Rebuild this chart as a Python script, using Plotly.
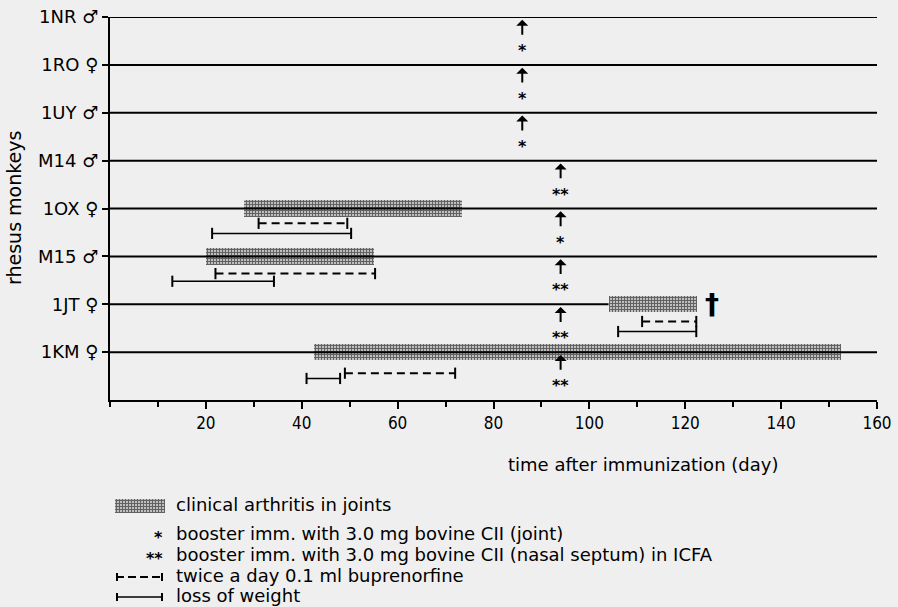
import plotly.graph_objects as go

# ---------------- data ----------------
monkeys = ["1NR ♂", "1RO ♀", "1UY ♂", "M14 ♂", "1OX ♀", "M15 ♂", "1JT ♀", "1KM ♀"]
row_pos = [8, 7, 6, 5, 4, 3, 2, 1]
line_end = [160, 160, 160, 160, 160, 160, 104, 160]

arth_monkeys = ["1OX ♀", "M15 ♂", "1JT ♀", "1KM ♀"]
arth_start = [28, 20, 104, 42.5]
arth_end = [73.5, 55, 122.5, 152.5]

bup_start = [31, 22, 111, 49]
bup_end = [49.5, 55.3, 122.3, 72]

wl_start = [21.3, 13, 106, 41]
wl_end = [50.3, 34.2, 122.3, 48]

booster_day = [86, 86, 86, 94, 94, 94, 94, 94]
booster_type = ["*", "*", "*", "**", "*", "**", "**", "**"]

death_monkey = "1JT ♀"
death_day = 125.5

x_ticks = [20, 40, 60, 80, 100, 120, 140, 160]

legend_texts = [
    "clinical arthritis in joints",
    "booster imm. with 3.0 mg bovine CII (joint)",
    "booster imm. with 3.0 mg bovine CII (nasal septum) in ICFA",
    "twice a day 0.1 ml buprenorfine",
    "loss of weight",
]

# ---------------- figure ----------------
W, H = 898, 607
BG = "#efefef"
FONT = "DejaVu Sans"
NARROW = "Liberation Sans Narrow, DejaVu Sans Condensed, DejaVu Sans"


def px(x):
    return x / W


def py(y):
    return 1 - y / H


pos = dict(zip(monkeys, row_pos))
fig = go.Figure()

# row lines
for m, e in zip(monkeys, line_end):
    fig.add_trace(go.Scatter(x=[0, e], y=[pos[m], pos[m]], mode="lines",
                             line=dict(color="black", width=2),
                             hoverinfo="skip", showlegend=False))

# arthritis bars
pattern = dict(shape="+", size=3, solidity=0.6, fgcolor="#000000", bgcolor="#c4c4c4")
fig.add_trace(go.Bar(
    y=[pos[m] for m in arth_monkeys],
    x=[e - s for s, e in zip(arth_start, arth_end)],
    base=arth_start, orientation="h", width=0.34,
    marker=dict(color="#c4c4c4", line=dict(width=0), pattern=pattern),
    showlegend=False, hoverinfo="skip"))

# buprenorfine (dashed) and weight loss (solid) intervals
bup_off = [-0.31, -0.36, -0.36, -0.44]
wl_off = [-0.52, -0.52, -0.57, -0.55]
for m, s, e, o in zip(arth_monkeys, bup_start, bup_end, bup_off):
    fig.add_trace(go.Scatter(x=[s, e], y=[pos[m] + o] * 2, mode="lines+markers",
                             line=dict(color="black", width=2, dash="8px,5px"),
                             marker=dict(symbol="line-ns", size=8,
                                         line=dict(color="black", width=2)),
                             hoverinfo="skip", showlegend=False))
for m, s, e, o in zip(arth_monkeys, wl_start, wl_end, wl_off):
    fig.add_trace(go.Scatter(x=[s, e], y=[pos[m] + o] * 2, mode="lines+markers",
                             line=dict(color="black", width=1.5),
                             marker=dict(symbol="line-ns", size=8,
                                         line=dict(color="black", width=2)),
                             hoverinfo="skip", showlegend=False))

# booster arrows and stars
for m, d, t in zip(monkeys, booster_day, booster_type):
    r = pos[m]
    fig.add_annotation(x=d, y=r - 0.06, ax=d, ay=r - 0.4, xref="x", yref="y",
                       axref="x", ayref="y", showarrow=True, arrowhead=1,
                       arrowsize=1, arrowwidth=2, arrowcolor="black", text="")
    fig.add_annotation(x=d, y=r - 0.70, xref="x", yref="y", text="<b>" + t + "</b>",
                       showarrow=False, font=dict(size=16, color="black", family=FONT),
                       xanchor="center", yanchor="middle")

# death
fig.add_annotation(x=death_day, y=pos[death_monkey], xref="x", yref="y", text="<b>†</b>",
                   showarrow=False, font=dict(size=28, color="black", family=FONT),
                   xanchor="center", yanchor="middle")

# axis titles
fig.add_annotation(x=px(643), y=py(464), xref="paper", yref="paper",
                   text="time after immunization (day)", showarrow=False,
                   xanchor="center", yanchor="middle",
                   font=dict(size=18, color="black", family=FONT))
fig.add_annotation(x=px(14), y=py(208), xref="paper", yref="paper",
                   text="rhesus monkeys", showarrow=False, textangle=-90,
                   xanchor="center", yanchor="middle",
                   font=dict(size=19, color="black", family=FONT))

# ---------------- legend ----------------
# hatched swatch via a small extra axis
fig.add_trace(go.Bar(x=[1], y=[1], base=[0], orientation="h", width=1,
                     xaxis="x2", yaxis="y2",
                     marker=dict(color="#c4c4c4", line=dict(width=0), pattern=pattern),
                     showlegend=False, hoverinfo="skip"))
leg_y = [504, 533, 554, 575, 595]
for t, yy in zip(legend_texts, leg_y):
    fig.add_annotation(x=px(174), y=py(yy), xref="paper", yref="paper", text=t,
                       showarrow=False, xanchor="left", yanchor="middle",
                       font=dict(size=18, color="black", family=FONT))
fig.add_annotation(x=px(165), y=py(537), xref="paper", yref="paper", text="<b>*</b>",
                   showarrow=False, xanchor="right", yanchor="middle",
                   font=dict(size=16, color="black", family=FONT))
fig.add_annotation(x=px(165), y=py(558), xref="paper", yref="paper", text="<b>**</b>",
                   showarrow=False, xanchor="right", yanchor="middle",
                   font=dict(size=16, color="black", family=FONT))
# dashed and solid legend lines
fig.add_shape(type="line", x0=px(116), x1=px(163), y0=py(577), y1=py(577),
              xref="paper", yref="paper", line=dict(color="black", width=2, dash="8px,4px"))
fig.add_shape(type="line", x0=px(116), x1=px(163), y0=py(597), y1=py(597),
              xref="paper", yref="paper", line=dict(color="black", width=1.5))
for yy in (577, 597):
    for xx in (117, 162):
        fig.add_shape(type="line", x0=px(xx), x1=px(xx), y0=py(yy - 4), y1=py(yy + 4),
                      xref="paper", yref="paper", line=dict(color="black", width=2))

fig.update_layout(
    width=W, height=H,
    margin=dict(l=0, r=0, t=0, b=0),
    paper_bgcolor=BG, plot_bgcolor=BG,
    bargap=0, barmode="overlay",
    xaxis=dict(domain=[px(110), px(877)], range=[0, 160], tickvals=x_ticks,
               ticks="outside", ticklen=7, tickwidth=2, tickcolor="black",
               showline=True, linewidth=2, linecolor="black", showgrid=False,
               zeroline=False, automargin=False,
               tickfont=dict(size=17, color="black", family=NARROW),
               minor=dict(dtick=10, tick0=0, ticks="outside", ticklen=5,
                          tickwidth=2, tickcolor="black", showgrid=False)),
    yaxis=dict(domain=[py(400), py(17)], range=[0, 8], tickvals=row_pos,
               ticktext=monkeys,
               ticks="outside", ticklen=6, tickwidth=2, tickcolor="black",
               showline=True, linewidth=2, linecolor="black", showgrid=False,
               zeroline=False, automargin=False,
               tickfont=dict(size=18, color="black", family=FONT)),
    xaxis2=dict(domain=[px(115), px(165)], range=[0, 1], visible=False, anchor="y2"),
    yaxis2=dict(domain=[py(513), py(499)], range=[0.5, 1.5], visible=False, anchor="x2"),
)

fig.write_html("out.html")
